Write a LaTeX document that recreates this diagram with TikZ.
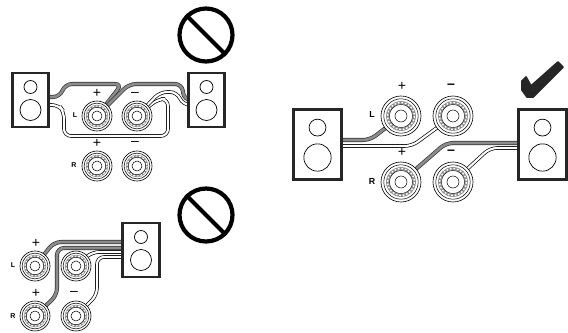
\documentclass[tikz,border=0pt]{standalone}
\usepackage{fontspec}
\setmainfont{Liberation Sans}
\usetikzlibrary{backgrounds}
\tikzset{
  spkbox/.style={draw=black!85,line width=1.3pt,fill=white,inner sep=0,outer sep=0},
  cone/.style={draw=black,circle,line width=.4pt,inner sep=0},
  banned/.style={draw=black,circle,line width=2.4pt,inner sep=0,minimum size=53*0.02cm},
  post/.style={draw=black,circle,fill=white,line width=.35pt,inner sep=0,outer sep=0},
  wiregray/.style={draw=black!80,line width=.4pt,double=black!45,double distance=1.5pt,rounded corners=4},
  wirewhite/.style={draw=black,line width=.4pt,double=white,double distance=1.2pt,rounded corners=4},
  sign/.style={font=\fontsize{8}{8}\selectfont,inner sep=0},
  side/.style={font=\fontsize{4}{4}\selectfont\bfseries,inner sep=0}
}
\begin{document}
\begin{tikzpicture}[x=0.02cm,y=-0.02cm]
  \useasboundingbox (0,0) rectangle (568,332);
  % loudspeakers
  \foreach \n/\x/\y/\w/\h/\k in {sa/30.5/100/36/54/1,sb/206.5/100/36/54/1,sc/141/250/37/54/1,sd/317.5/144.5/48/70/1.3,se/542.5/144.5/48/70/1.3}{
    \node[spkbox,minimum width=\w*0.02cm,minimum height=\h*0.02cm] (\n) at (\x,\y) {};
    \node[cone,minimum size=13*\k*0.02cm] (\n1) at (\x,\y-13*\k) {};
    \node[cone,minimum size=21*\k*0.02cm] (\n2) at (\x,\y+10*\k) {};
  }
  % binding posts
  \foreach \n/\x/\y/\r/\i in {alp/97/116/15/5,alm/137/116/15/5,arp/97/166/15/5,arm/137/166/15/5,
      blp/35/266/15/5,blm/76/266/15/5,brp/35/316/15/5,brm/76/316/15/5,
      clp/401/116/20/6,clm/453/116/20/6,crp/401/182/20/6,crm/453/182/20/6}{
    \node[post,minimum size=2*\r*0.02cm] (\n) at (\x,\y) {};
    \draw[line width=.3pt] (\n.center) circle (.86*\r);
    \draw[black!45,line width=.15*\r*0.02cm] (\n.center) circle (.67*\r);
    \draw[white,line width=.07*\r*0.02cm,dash pattern=on 1pt off 1pt] (\n.center) circle (.67*\r);
    \draw[line width=.25pt] (\n.center) circle (.58*\r);
    \draw[line width=.3pt] (\n.center) circle (\i);
  }
  % top left
  \begin{scope}[on background layer]
    \draw[wirewhite] (sa.east |- 0,105) -- (59,105) -- (64,112) -- (64,136) -- (168,136) -- (168,99) -- (158,99) -- (alm.center);
    \draw[wirewhite] (alm.center) -- (160,92) -- (177,92) -- (183,105) -- (sb.west |- 0,105);
    \draw[wiregray] (sa.east |- 0,97) -- (60,97) -- (65,84) -- (122,84) -- (alp.center);
    \draw[wiregray] (alp.center) -- (129,84) -- (182,84) -- (184,100) -- (sb.west |- 0,100);
  \end{scope}
  \foreach \x/\y/\t in {97/93/+,135/94/--,97/143/+,135/143/--}
    \node[sign] (a\x\y) at (\x,\y) {\t};
  \node[side] (al) at (75,115) {L};
  \node[side] (ar) at (74,165) {R};
  \node[banned] (noa) at (206,35) {};
  \draw[line width=2.4pt] (noa.135) -- (noa.-45);
  % bottom left
  \begin{scope}[on background layer]
    \draw[wiregray] (blp.center) -- (54,242) -- (sc.west |- 0,242);
    \draw[wiregray] (brp.center) -- (57,295) -- (57,248) -- (sc.west |- 0,248);
    \draw[wirewhite] (blm.center) -- (92,252) -- (sc.west |- 0,252);
    \draw[wirewhite] (brm.center) -- (97,295) -- (97,257) -- (sc.west |- 0,257);
  \end{scope}
  \foreach \x/\y/\t in {36/243/+,36/293/+,74/293/--}
    \node[sign] (b\x\y) at (\x,\y) {\t};
  \node[side] (bl) at (13,265) {L};
  \node[side] (br) at (13,316) {R};
  \node[banned] (nob) at (206,215) {};
  \draw[line width=2.4pt] (nob.135) -- (nob.-45);
  % right
  \begin{scope}[on background layer]
    \draw[wiregray] (sd.east |- 0,140) -- (370,140) -- (clp.center);
    \draw[wirewhite] (sd.east |- 0,146) -- (412,146) -- (clm.center);
    \draw[wiregray] (crp.center) -- (446,143) -- (se.west |- 0,143);
    \draw[wirewhite] (crm.center) -- (490,148) -- (se.west |- 0,148);
  \end{scope}
  \foreach \x/\y/\t in {402/86/+,402/152/+}
    \node[sign] (c\x\y) at (\x,\y) {\t};
  \foreach \x/\y in {451/86,451/152}
    \node[sign,font=\fontsize{8}{8}\selectfont\bfseries] (c\x\y) at (\x,\y) {--};
  \node[side,font=\fontsize{5}{5}\selectfont\bfseries] (cl) at (372,114) {L};
  \node[side,font=\fontsize{5}{5}\selectfont\bfseries] (cr) at (372,181) {R};
  \filldraw[black!85,line width=1pt,line join=round] (522,81) -- (526,77) -- (531,86) -- (558,62) -- (563,67) -- (533,97) -- (527,97) -- (522,90) -- cycle;
\end{tikzpicture}
\end{document}
